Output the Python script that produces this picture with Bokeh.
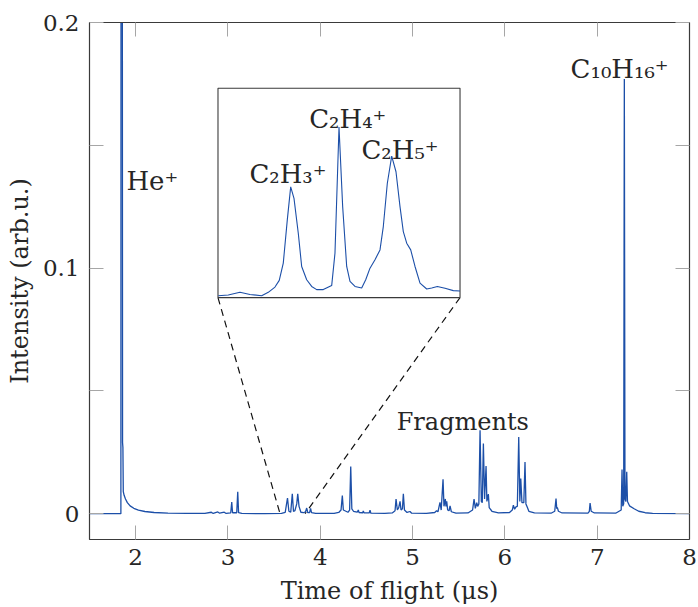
from bokeh.plotting import figure
from bokeh.models import Range1d, FixedTicker, LinearAxis, CustomLabelingPolicy
from bokeh.core.properties import value
from bokeh.embed import file_html
from bokeh.resources import INLINE

# ---------------- data ----------------
time_us = [
    1.50, 1.840, 1.842, 1.855, 1.858, 1.862, 1.866, 1.875, 1.89, 1.91, 1.94, 1.98, 2.03, 2.10,
    2.20, 2.35, 2.55, 2.75, 2.82, 2.84, 2.89, 2.91, 2.96, 2.98, 3.03, 3.041, 3.05, 3.095,
    3.106, 3.115, 3.15, 3.40, 3.58, 3.62, 3.645, 3.66, 3.68, 3.697, 3.71, 3.725, 3.745,
    3.756, 3.77, 3.79, 3.82, 3.84, 3.853, 3.865, 3.885, 3.895, 3.905, 3.95, 4.15, 4.20,
    4.225, 4.239, 4.25, 4.30, 4.318, 4.330, 4.342, 4.36, 4.40, 4.412, 4.42, 4.46, 4.466,
    4.475, 4.53, 4.539, 4.548, 4.70, 4.78, 4.81, 4.821, 4.835, 4.850, 4.864, 4.875, 4.890,
    4.900, 4.912, 4.94, 4.972, 4.99, 5.15, 5.24, 5.26, 5.275, 5.297, 5.31, 5.33, 5.34,
    5.355, 5.362, 5.370, 5.38, 5.395, 5.406, 5.42, 5.47, 5.60, 5.65, 5.666, 5.68, 5.695,
    5.705, 5.718, 5.731, 5.745, 5.755, 5.767, 5.78, 5.796, 5.805, 5.821, 5.83, 5.86, 5.93,
    6.05, 6.08, 6.092, 6.105, 6.12, 6.135, 6.150, 6.162, 6.172, 6.185, 6.205, 6.218, 6.228,
    6.243, 6.26, 6.32, 6.50, 6.54, 6.554, 6.562, 6.568, 6.58, 6.62, 6.90, 6.915, 6.923,
    6.935, 6.97, 7.20, 7.26, 7.269, 7.277, 7.287, 7.294, 7.301, 7.310, 7.320, 7.328, 7.35,
    7.40, 7.45, 7.52, 7.60, 8.00,
]
intensity = [
    0.0000, 0.0000, 0.30, 0.30, 0.029, 0.027, 0.009, 0.0075, 0.0060, 0.0045, 0.0032, 0.0022,
    0.0015, 0.0009, 0.0005, 0.0002, 0.0001, 0.0001, 0.0006, 0.0001, 0.0007, 0.0002, 0.0006,
    0.0001, 0.0003, 0.0047, 0.0004, 0.0004, 0.0089, 0.0004, 0.0001, 0.0000, 0.0001, 0.0005,
    0.0064, 0.0010, 0.0006, 0.0081, 0.0009, 0.0012, 0.0040, 0.0081, 0.0030, 0.0006, 0.0004,
    0.0008, 0.0023, 0.0004, 0.0005, 0.0022, 0.0004, 0.0001, 0.0001, 0.0005, 0.0015, 0.0074,
    0.0015, 0.0006, 0.0015, 0.0192, 0.0020, 0.0010, 0.0006, 0.0015, 0.0005, 0.0004, 0.0011,
    0.0003, 0.0003, 0.0014, 0.0002, 0.0001, 0.0003, 0.0012, 0.0060, 0.0015, 0.0025, 0.0050,
    0.0015, 0.0020, 0.0081, 0.0015, 0.0005, 0.0009, 0.0002, 0.0001, 0.0005, 0.0012, 0.0008,
    0.0046, 0.0015, 0.0140, 0.0030, 0.0060, 0.0030, 0.0050, 0.0015, 0.0012, 0.0032, 0.0008,
    0.0002, 0.0003, 0.0015, 0.0060, 0.0022, 0.0045, 0.0030, 0.0040, 0.0340, 0.0050, 0.0045,
    0.0286, 0.0060, 0.0194, 0.0050, 0.0080, 0.0025, 0.0010, 0.0003, 0.0005, 0.0015, 0.0035,
    0.0018, 0.0028, 0.0030, 0.0312, 0.0050, 0.0143, 0.0045, 0.0045, 0.0210, 0.0040, 0.0026,
    0.0010, 0.0003, 0.0002, 0.0010, 0.0062, 0.0020, 0.0026, 0.0010, 0.0003, 0.0002, 0.0010,
    0.0043, 0.0010, 0.0003, 0.0002, 0.0015, 0.0180, 0.0030, 0.0040, 0.1770, 0.0060, 0.0050,
    0.0171, 0.0050, 0.0032, 0.0020, 0.0010, 0.0004, 0.0001, 0.0000,
]

# zoomed window shown in the inset (same intensity units)
inset_time_us = [
    3.5643, 3.5755, 3.5886, 3.5998, 3.6129, 3.6203, 3.6278, 3.6326, 3.6371, 3.6416, 3.6454,
    3.6491, 3.6539, 3.6577, 3.6633, 3.6689, 3.6745, 3.6819, 3.6913, 3.6950, 3.6995, 3.7036,
    3.7081, 3.7118, 3.7174, 3.7249, 3.7294, 3.7342, 3.7398, 3.7454, 3.7491, 3.7536, 3.7585,
    3.7633, 3.7678, 3.7715, 3.7753, 3.7798, 3.7846, 3.7902, 3.7977, 3.8033, 3.8096, 3.8182,
    3.8275, 3.8350,
]
inset_intensity = [
    0.00007, 0.00010, 0.00023, 0.00013, 0.00007, 0.00023, 0.00048, 0.00080, 0.00162, 0.00368,
    0.00525, 0.00470, 0.00304, 0.00146, 0.00083, 0.00051, 0.00036, 0.00036, 0.00055, 0.00210,
    0.00810, 0.00431, 0.00146, 0.00075, 0.00051, 0.00044, 0.00083, 0.00138, 0.00178, 0.00225,
    0.00336, 0.00542, 0.00671, 0.00597, 0.00431, 0.00312, 0.00257, 0.00225, 0.00146, 0.00067,
    0.00039, 0.00044, 0.00051, 0.00042, 0.00031, 0.00029,
]

x_ticks = [2, 3, 4, 5, 6, 7, 8]
y_ticks = [0, 0.1, 0.2]
y_minor_ticks = [0.05, 0.15]

peak_labels = ["He⁺", "C₁₀H₁₆⁺"]
fragment_labels = ["Fragments"]
inset_labels = ["C₂H₃⁺", "C₂H₄⁺", "C₂H₅⁺"]

# ---------------- layout / style constants ----------------
peak_label_x = [1.900, 6.712]
peak_label_y = [0.1355, 0.181]
fragment_label_x = [4.828]
fragment_label_y = [0.0373]
inset_label_x = [3.232, 3.880, 4.446]
inset_label_y = [0.1383, 0.1606, 0.1481]
zoom_window = (3.564, 3.835)
inset_x_target = Range1d(2.892, 5.514)
inset_y_target = Range1d(0.0880, 0.1732)
inset_y_source = Range1d(-0.00002, 0.00994)

LINE = "#1c4fa8"
TXT = "#262626"
FRAME = "#3a3a3a"
TICK = "#a6a6a6"
FONT = "DejaVu Serif"
FS = "24px"

p = figure(width=698, height=607, x_range=Range1d(1.5, 8), y_range=Range1d(-0.0105, 0.2),
           output_backend="svg", toolbar_location=None,
           min_border_left=89, min_border_right=9, min_border_top=22, min_border_bottom=66)
p.xgrid.visible = False
p.ygrid.visible = False
p.outline_line_color = FRAME
p.background_fill_color = "white"
p.border_fill_color = "white"

xt = FixedTicker(ticks=x_ticks)
yt = FixedTicker(ticks=y_ticks, minor_ticks=y_minor_ticks)

hide_all = CustomLabelingPolicy(code="""
    for (const i of indices) { indices.unset(i) }
    return indices
""")


def style_axis(ax, show_labels):
    ax.axis_line_color = FRAME
    ax.axis_line_width = 1.2
    ax.major_tick_in = 14
    ax.major_tick_out = 0
    ax.minor_tick_in = 14
    ax.minor_tick_out = 0
    ax.major_tick_line_color = TICK
    ax.minor_tick_line_color = TICK
    ax.major_label_text_font = FONT
    ax.major_label_text_color = TXT
    ax.axis_label_text_font = FONT
    ax.axis_label_text_color = TXT
    ax.axis_label_text_font_style = "normal"
    if show_labels:
        ax.major_label_text_font_size = "23px"
        ax.axis_label_text_font_size = FS
    else:
        ax.major_label_text_font_size = "2px"
        ax.major_label_standoff = 0
        ax.major_label_policy = hide_all


p.xaxis.ticker = xt
p.yaxis.ticker = yt
p.xaxis.axis_label = "Time of flight (μs)"
p.yaxis.axis_label = "Intensity (arb.u.)"
p.yaxis.major_label_overrides = {0: "0", 0.1: "0.1", 0.2: "0.2"}
for ax in p.xaxis + p.yaxis:
    style_axis(ax, True)
p.xaxis.major_label_standoff = 9
p.xaxis.axis_label_standoff = 9
p.yaxis.major_label_standoff = 10
p.yaxis.axis_label_standoff = 6
p.yaxis.major_label_orientation = "horizontal"

top_ax = LinearAxis(ticker=FixedTicker(ticks=x_ticks))
right_ax = LinearAxis(ticker=FixedTicker(ticks=y_ticks, minor_ticks=y_minor_ticks))
style_axis(top_ax, False)
style_axis(right_ax, False)
p.add_layout(top_ax, "above")
p.add_layout(right_ax, "right")

# dashed zoom guides
p.segment(x0=[inset_x_target.start, inset_x_target.end],
          y0=[inset_y_target.start, inset_y_target.start],
          x1=[zoom_window[0], zoom_window[1]], y1=[0, 0],
          line_color="#111111", line_width=1.2, line_dash="7 5")

# main spectrum
p.line(time_us, intensity, line_color=LINE, line_width=1.3)

# inset box and zoomed trace
p.quad(left=[inset_x_target.start], right=[inset_x_target.end],
       bottom=[inset_y_target.start], top=[inset_y_target.end],
       fill_color="white", line_color=FRAME, line_width=1.1)
sub = p.subplot(x_source=Range1d(*zoom_window), y_source=inset_y_source,
                x_target=inset_x_target, y_target=inset_y_target)
sub.line(inset_time_us, inset_intensity, line_color=LINE, line_width=1.1)

p.text(x=peak_label_x, y=peak_label_y, text=peak_labels,
       text_font=value(FONT), text_font_size=value("26px"), text_color=TXT,
       text_align="left", text_baseline="alphabetic")
p.text(x=fragment_label_x, y=fragment_label_y, text=fragment_labels,
       text_font=value(FONT), text_font_size=value(FS), text_color=TXT,
       text_align="left", text_baseline="alphabetic")
p.text(x=inset_label_x, y=inset_label_y, text=inset_labels,
       text_font=value(FONT), text_font_size=value("26px"), text_color=TXT,
       text_align="left", text_baseline="alphabetic")

open("out.html", "w").write(file_html(p, INLINE))
